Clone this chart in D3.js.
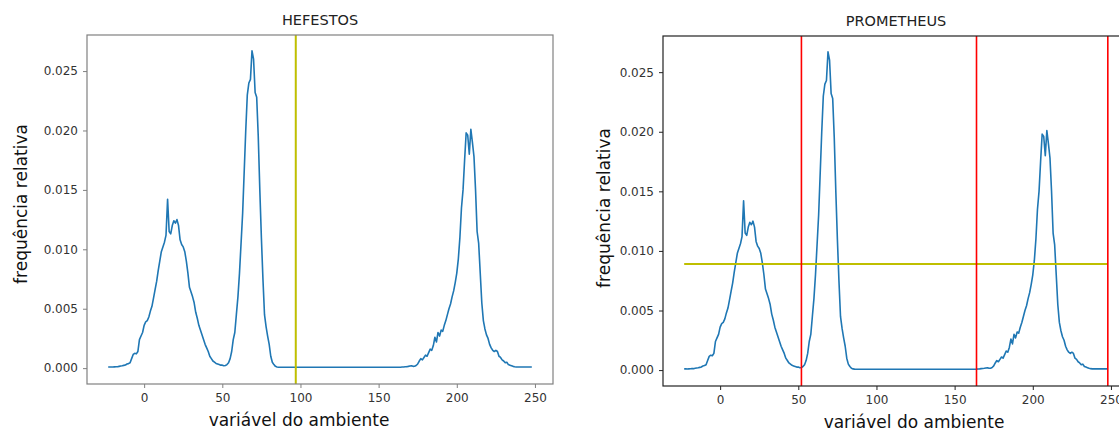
<!DOCTYPE html>
<html>
<head>
<meta charset="utf-8">
<script src="https://cdn.jsdelivr.net/npm/d3@7"></script>
<style>
body{margin:0;background:#fff;}
text{font-family:"DejaVu Sans",sans-serif;}
</style>
</head>
<body>
<svg id="chart" width="1119" height="434"></svg>
<script>
// environment variable (x) values
const xs = [-23,-22,-21,-20,-19,-18,-17,-16,-15,-14,-13,-12,-11,-10,-9,-8,-7,-6,-5,-4,-3,-2,-1,
0,1,2,3,4,5,6,7,8,9,10,11,12,13,14,15,16,17,18,19,20,21,22,23,24,25,26,27,28,29,30,
31,32,33,34,35,36,37,38,39,40,41,42,43,44,45,46,47,48,49,50,51,52,53,54,55,56,57,58,59,60,
61,62,63,64,65,66,67,68,69,70,71,72,73,74,75,76,77,78,79,80,81,82,83,84,85,86,
90,100,110,120,130,140,150,160,
164,165,166,167,168,169,170,171,172,173,174,175,176,177,178,179,180,
181,182,183,184,185,186,187,188,189,190,191,192,193,194,195,196,197,198,199,200,
201,202,203,204,205,206,207,208,209,210,211,212,213,214,215,216,217,218,219,220,
221,222,223,224,225,226,227,228,229,230,231,232,233,234,235,236,237,238,240,244,248];
// relative frequency values
const freq = [0.0001,0.0001,0.00009,0.0001,0.00011,0.00012,0.00012,0.00015,0.00018,0.0002,0.00023,0.00026,0.00035,0.00038,0.00045,0.0008,0.00115,0.00125,0.0012,0.0014,0.0024,0.0027,0.003,
0.0036,0.0039,0.004,0.0043,0.0048,0.0052,0.0059,0.0066,0.0073,0.0082,0.009,0.0098,0.0102,0.0106,0.0112,0.0142,0.0115,0.0113,0.012,0.0124,0.0122,0.0125,0.012,0.0108,0.0104,0.0102,0.0098,0.009,0.008,0.0068,0.0064,
0.006,0.0055,0.0047,0.0042,0.0036,0.0032,0.0028,0.0024,0.002,0.0017,0.0014,0.001,0.0008,0.0006,0.0005,0.0004,0.00035,0.0003,0.00025,0.00025,0.0002,0.00022,0.0003,0.00045,0.0008,0.0014,0.0024,0.003,0.0045,0.006,
0.008,0.0105,0.013,0.0165,0.02,0.023,0.024,0.0243,0.0267,0.026,0.0232,0.0228,0.0195,0.015,0.011,0.0075,0.0045,0.0035,0.0027,0.002,0.001,0.0005,0.0003,0.00015,0.0001,0.00008,
0.00007,0.00007,0.00007,0.00007,0.00007,0.00007,0.00007,0.00007,
0.00008,0.00009,0.0001,0.00012,0.00013,0.00015,0.00018,0.0002,0.00015,0.00016,0.00022,0.00035,0.0006,0.0008,0.0007,0.0009,0.0011,
0.001,0.0013,0.0016,0.0015,0.0019,0.0026,0.0022,0.003,0.0027,0.0032,0.0031,0.0036,0.004,0.0045,0.005,0.0054,0.006,0.0065,0.0072,0.008,
0.0092,0.011,0.0135,0.015,0.0175,0.0198,0.0196,0.018,0.0201,0.019,0.0178,0.015,0.0115,0.0105,0.008,0.0055,0.004,0.0033,0.0028,0.0025,
0.002,0.0017,0.0015,0.0014,0.0015,0.0014,0.001,0.0009,0.0007,0.0006,0.00045,0.0005,0.0003,0.00025,0.0002,0.00015,0.00012,0.0001,0.0001,0.0001,0.0001];

const xTicks = [0,50,100,150,200,250];
const yTicks = [0,0.005,0.010,0.015,0.020,0.025];
const titles = ["HEFESTOS","PROMETHEUS"];
const xLabel = "variável do ambiente";
const yLabel = "frequência relativa";
// threshold markers
const hefestosCut = [97];
const prometheusCuts = [52,164,248];
const prometheusLevel = [0.0089];

const data = xs.map((x,i)=>({x, y:freq[i]}));
const svg = d3.select("#chart");

function panel(opts){
  const {left, top, width, height, title, frame, xLabelX, xLabelY, yLabelX, yLabelY} = opts;
  const xMin = d3.min(xs), xMax = d3.max(xs), yMax = d3.max(freq), yMin = 0;
  const xm = (xMax-xMin)*0.05, ym = (yMax-yMin)*0.05;
  const x = d3.scaleLinear().domain([xMin-xm, xMax+xm]).range([left, left+width]);
  const y = d3.scaleLinear().domain([yMin-ym, yMax+ym]).range([top+height, top]);
  const g = svg.append("g");

  const clipId = "clip"+left;
  svg.append("clipPath").attr("id",clipId).append("rect")
    .attr("x",left).attr("y",top).attr("width",width).attr("height",height);
  const plot = g.append("g").attr("clip-path",`url(#${clipId})`);

  plot.append("path").datum(data)
    .attr("fill","none").attr("stroke","#1f77b4").attr("stroke-width",1.6)
    .attr("stroke-linejoin","round")
    .attr("d", d3.line().x(d=>x(d.x)).y(d=>y(d.y)));

  if(opts.draw) opts.draw(plot, x, y, top, height);

  const xAxis = g.append("g").attr("transform",`translate(0,${top+height})`)
    .call(d3.axisBottom(x).tickValues(xTicks).tickFormat(d3.format("d")).tickSize(4).tickPadding(5));
  const yAxis = g.append("g").attr("transform",`translate(${left},0)`)
    .call(d3.axisLeft(y).tickValues(yTicks).tickFormat(d3.format(".3f")).tickSize(4).tickPadding(5));
  [xAxis,yAxis].forEach(a=>{
    a.select(".domain").remove();
    a.selectAll("line").attr("stroke",frame).attr("stroke-width",1);
    a.selectAll("text").attr("fill","#333").style("font-size","12px").style("font-family","DejaVu Sans");
  });

  g.append("rect").attr("x",left).attr("y",top).attr("width",width).attr("height",height)
    .attr("fill","none").attr("stroke",frame).attr("stroke-width",1.2);

  g.append("text").attr("x",left+width/2).attr("y",top-10).attr("text-anchor","middle")
    .style("font-size","14.5px").attr("fill","#222").text(title);
  g.append("text").attr("x",xLabelX).attr("y",xLabelY).attr("text-anchor","middle")
    .style("font-size","17px").attr("fill","#111").text(xLabel);
  g.append("text").attr("transform",`translate(${yLabelX},${yLabelY}) rotate(-90)`)
    .attr("text-anchor","middle").style("font-size","17px").attr("fill","#111").text(yLabel);
}

panel({left:87, top:35, width:466, height:349, title:titles[0], frame:"#808080",
  xLabelX:299, xLabelY:426, yLabelX:27, yLabelY:204,
  draw:(p,x,y,top,h)=>{
    p.selectAll(".vc").data(hefestosCut).enter().append("line")
      .attr("x1",d=>x(d)).attr("x2",d=>x(d)).attr("y1",top).attr("y2",top+h)
      .attr("stroke","#bfbf00").attr("stroke-width",2);
  }});

panel({left:663, top:36, width:466, height:350, title:titles[1], frame:"#222",
  xLabelX:914, xLabelY:428, yLabelX:610, yLabelY:208,
  draw:(p,x,y,top,h)=>{
    p.selectAll(".hl").data(prometheusLevel).enter().append("line")
      .attr("x1",x(d3.min(xs))).attr("x2",x(d3.max(xs))).attr("y1",d=>y(d)).attr("y2",d=>y(d))
      .attr("stroke","#bfbf00").attr("stroke-width",2);
    p.selectAll(".rc").data(prometheusCuts).enter().append("line")
      .attr("x1",d=>x(d)).attr("x2",d=>x(d)).attr("y1",top).attr("y2",top+h)
      .attr("stroke","#ff0000").attr("stroke-width",1.6);
  }});
</script>
</body>
</html>
